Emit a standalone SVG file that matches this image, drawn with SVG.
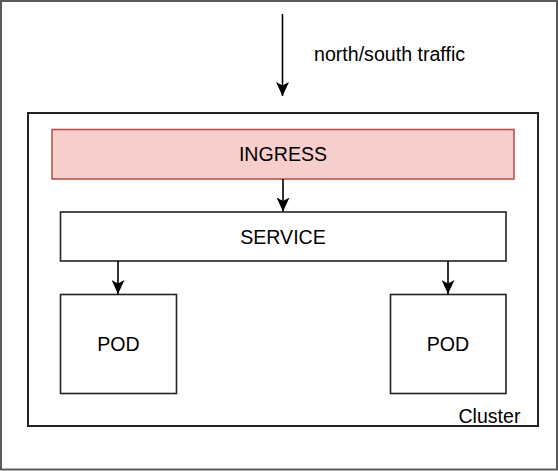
<svg xmlns="http://www.w3.org/2000/svg" width="558" height="471" viewBox="0 0 558 471">
<style>
text { font-family: "Liberation Sans", Arial, sans-serif; font-size: 19.6px; fill: #000; }
.box { fill: #fff; stroke: #222; stroke-width: 1.6; }
.edge { stroke: #000; stroke-width: 1.6; fill: none; marker-end: url(#arr); }
</style>
<defs>
<marker id="arr" markerUnits="userSpaceOnUse" viewBox="0 0 14 13" refX="14" refY="6.5" markerWidth="14" markerHeight="13" orient="auto">
<path d="M0,0 L14,6.5 L0,13 L3.5,6.5 Z" fill="#000"/>
</marker>
</defs>
<rect x="0" y="0" width="558" height="471" fill="#fff"/>
<g id="frame">
<rect x="1" y="1" width="556" height="468.5" fill="#fff" stroke="#5a5a5a" stroke-width="2"/>
</g>
<g id="cluster">
<rect x="28" y="113" width="510" height="313" fill="#fff" stroke="#222" stroke-width="2"/>
<text x="520.5" y="423" text-anchor="end">Cluster</text>
</g>
<g id="traffic-label">
<text x="314" y="61">north/south traffic</text>
</g>
<g id="ingress">
<rect x="52" y="129.5" width="462" height="49.5" fill="#f8cecc" stroke="#b85450" stroke-width="1.6"/>
<text x="283" y="160.5" text-anchor="middle">INGRESS</text>
</g>
<g id="service">
<rect class="box" x="60.5" y="212" width="445.5" height="49"/>
<text x="283" y="243.5" text-anchor="middle">SERVICE</text>
</g>
<g id="pod1">
<rect class="box" x="60.5" y="294.5" width="116" height="99"/>
<text x="118.5" y="350.5" text-anchor="middle">POD</text>
</g>
<g id="pod2">
<rect class="box" x="390.5" y="294.5" width="115.5" height="99"/>
<text x="448" y="350.5" text-anchor="middle">POD</text>
</g>
<g id="connectors">
<line class="edge" x1="282.5" y1="14" x2="282.5" y2="96"/>
<line class="edge" x1="283" y1="179" x2="283" y2="211.5"/>
<line class="edge" x1="118" y1="261" x2="118" y2="294"/>
<line class="edge" x1="448" y1="261" x2="448" y2="294"/>
</g>
</svg>
